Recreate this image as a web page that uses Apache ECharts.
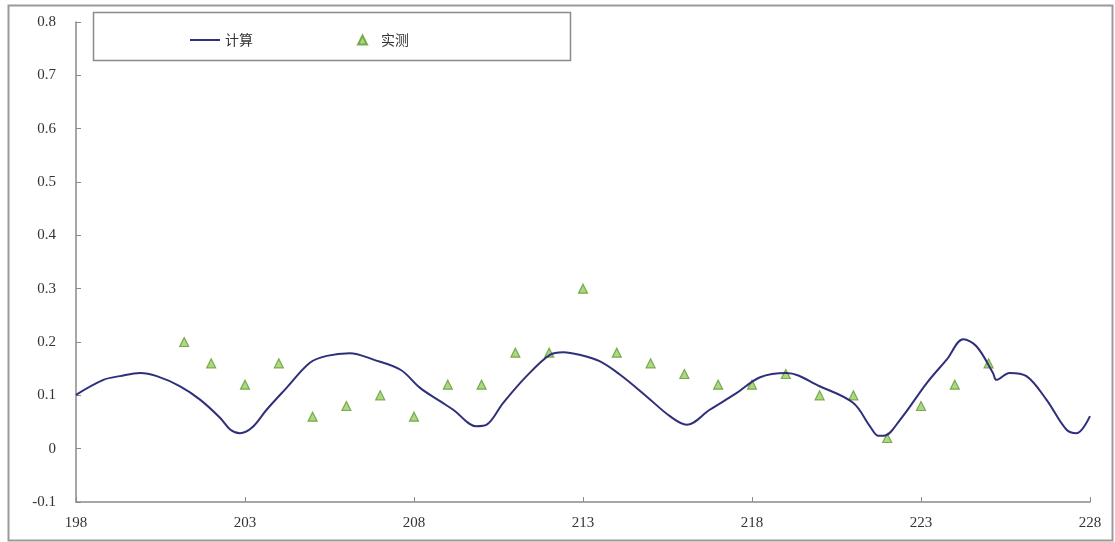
<!DOCTYPE html>
<html><head><meta charset="utf-8">
<script src="https://cdn.jsdelivr.net/npm/echarts@6/dist/echarts.min.js"></script>
<style>html,body{margin:0;padding:0;background:#fff}#c{width:1115px;height:542px}</style>
</head><body><div id="c"></div>
<script>
// 计算 (calculated) curve: [x, value]
const calcX = [198,198.81,199.3,199.9,200.39,201.08,201.67,202.26,202.56,202.85,203.2,203.64,204.23,204.92,205.42,206.1,206.8,207.6,208.18,208.77,209.16,209.85,210.15,210.64,211.33,212.02,212.42,212.9,213.49,214.09,214.88,215.57,216.07,216.75,217.54,218.24,219.02,220.0,220.99,221.49,221.74,221.9,222.38,223.17,223.76,224.25,224.64,225.13,225.23,225.62,226.12,226.71,227.3,227.6,228];
const calcY = [0.101,0.129,0.136,0.142,0.136,0.117,0.092,0.058,0.036,0.029,0.039,0.073,0.114,0.161,0.174,0.179,0.167,0.148,0.114,0.089,0.073,0.042,0.045,0.086,0.136,0.176,0.181,0.176,0.164,0.139,0.098,0.061,0.045,0.073,0.104,0.134,0.142,0.117,0.086,0.042,0.024,0.024,0.054,0.123,0.167,0.205,0.192,0.142,0.129,0.142,0.136,0.092,0.036,0.029,0.061];
// 实测 (measured) points
const measX = [201.2,202,203,204,205,206,207,208,209,210,211,212,213,214,215,216,217,218,219,220,221,222,223,224,225];
const measY = [0.20,0.16,0.12,0.16,0.06,0.08,0.10,0.06,0.12,0.12,0.18,0.18,0.30,0.18,0.16,0.14,0.12,0.12,0.14,0.10,0.10,0.02,0.08,0.12,0.16];
const xTicks = [198,203,208,213,218,223,228];
const yTicks = [-0.1,0,0.1,0.2,0.3,0.4,0.5,0.6,0.7,0.8];

const chart = echarts.init(document.getElementById('c'));
const serif = 'Liberation Serif';
const legendText = {fontFamily:'Noto Sans CJK SC',fontSize:14,color:'#333'};
chart.setOption({
  backgroundColor:'#fff',
  animation:false,
  grid:{left:76,right:25,top:22,bottom:40},
  graphic:[
    {type:'rect',shape:{x:8.5,y:5.5,width:1104,height:535},style:{fill:'none',stroke:'#9a9a9a',lineWidth:2},z:0},
    {type:'rect',shape:{x:93.5,y:12.5,width:477,height:48},style:{fill:'#fff',stroke:'#8a8a8a',lineWidth:1.5},z:5}
  ],
  legend:[
    {left:185, top:28, z:10, itemWidth:30, itemHeight:10,
     textStyle:legendText,
     data:[{name:'计算',icon:'path://M0,0L30,0L30,2L0,2Z'}]},
    {left:352, top:28, z:10, itemWidth:9, itemHeight:9,
     textStyle:Object.assign({padding:[0,0,0,9]},legendText),
     data:[{name:'实测',icon:'triangle'}]}
  ],
  xAxis:{
    type:'value',min:198,max:228,interval:5,
    axisLine:{onZero:false,lineStyle:{color:'#8a8a8a',width:1.5}},
    axisTick:{inside:true,length:5,lineStyle:{color:'#8a8a8a'}},
    splitLine:{show:false},
    axisLabel:{fontFamily:serif,fontSize:15,color:'#333',margin:14,
      formatter:v=>xTicks.includes(v)?String(v):''}
  },
  yAxis:{
    type:'value',min:-0.1,max:0.8,interval:0.1,
    axisLine:{show:true,lineStyle:{color:'#8a8a8a',width:1.5}},
    axisTick:{show:true,inside:true,length:5,lineStyle:{color:'#8a8a8a'}},
    splitLine:{show:false},
    axisLabel:{fontFamily:serif,fontSize:15,color:'#333',margin:20,
      formatter:v=>{const r=Math.round(v*10)/10; return r===0?'0':r.toFixed(1);}}
  },
  series:[
    {name:'计算',type:'line',smooth:0.35,showSymbol:false,symbol:'none',
     data:calcX.map((x,i)=>[x,calcY[i]]),
     lineStyle:{color:'#2f2f7a',width:2},itemStyle:{color:'#2f2f7a'}},
    {name:'实测',type:'scatter',symbol:'triangle',symbolSize:9,
     data:measX.map((x,i)=>[x,measY[i]]),
     itemStyle:{color:'#9ccc65',borderColor:'#5e9b2e',borderWidth:1.2}}
  ]
});
</script></body></html>
